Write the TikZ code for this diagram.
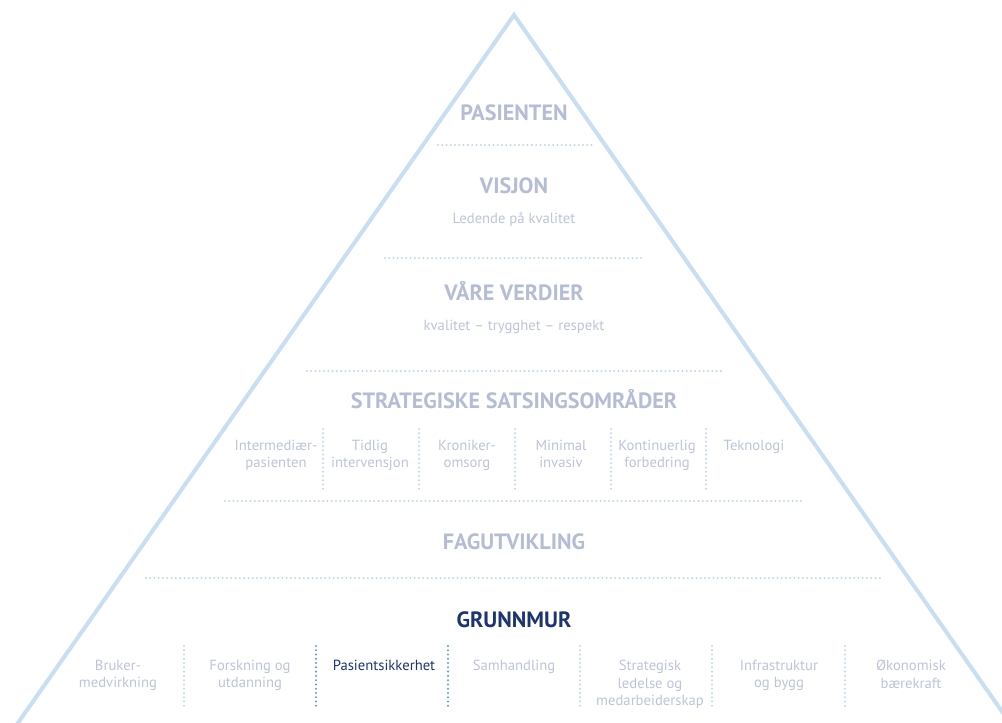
\documentclass[tikz,border=0pt]{standalone}
\usepackage{fontspec}
\setmainfont{PT Sans}
\definecolor{edgeblue}{RGB}{200,222,242}
\definecolor{dotblue}{RGB}{192,215,238}
\definecolor{darkdot}{RGB}{100,155,210}
\definecolor{headgray}{RGB}{180,189,213}
\definecolor{bodygray}{RGB}{188,196,219}
\definecolor{navy}{RGB}{28,52,115}
\begin{document}
\begin{tikzpicture}[x=0.75pt,y=-0.75pt] % 1 unit = 1 px of the reference
\tikzstyle{heading} = [font=\bfseries\fontsize{16.6}{20}\selectfont, text=headgray, inner sep=0pt, anchor=base] % niva title
\tikzstyle{subtext} = [font=\fontsize{11}{13}\selectfont, text=bodygray, inner sep=0pt, anchor=base] % line under a title
\tikzstyle{column} = [font=\fontsize{11}{13}\selectfont, text=bodygray, inner sep=0pt, align=center, anchor=north] % text in a column
\tikzstyle{divider} = [draw=dotblue, line width=1.7pt, line cap=round, dash pattern=on 0pt off 3.2pt] % dotted line
\clip (0,0) rectangle (1002,722);

% pyramid
\coordinate (top) at (514,15);
\coordinate (bl) at (-8,760);
\coordinate (br) at (1036,760);
\draw[edgeblue, line width=3pt, line join=miter] (bl) -- (top) -- (br);

% levels
\node[heading] (pasienten) at (514,120) {PASIENTEN};
\draw[divider] (438,145) -- (592,145);
\node[heading] (visjon) at (514,193) {VISJON};
\node[subtext] (visjontxt) at (514,223) {Ledende på kvalitet};
\draw[divider] (385,258) -- (645,258);
\node[heading] (verdier) at (514,300) {VÅRE VERDIER};
\node[subtext] (verdiertxt) at (514,330) {kvalitet – trygghet – respekt};
\draw[divider] (307,371) -- (721,371);
\node[heading] (strategi) at (514,408) {STRATEGISKE SATSINGSOMRÅDER};

% strategiske omrader
\foreach \x/\txt in {276/{Intermediær-\\pasienten}, 370/{Tidlig\\intervensjon},
    467/{Kroniker-\\omsorg}, 561/{Minimal\\invasiv}, 657/{Kontinuerlig\\forbedring}, 754/{Teknologi}}
    \node[column] (s\x) at (\x,440) {\txt};
\foreach \x in {323,419,515,611,706}
    \draw[divider] (\x,429) -- (\x,490);

\draw[divider] (225,501) -- (805,501);
\node[heading] (fag) at (514,549) {FAGUTVIKLING};
\draw[divider] (146,578) -- (883,578);
\node[heading, text=navy] (grunnmur) at (514,627) {GRUNNMUR};

% grunnmur
\foreach \x/\txt in {118/{Bruker-\\medvirkning}, 250/{Forskning og\\utdanning},
    514/{Samhandling}, 650/{Strategisk\\ledelse og\\medarbeiderskap},
    779/{Infrastruktur\\og bygg}, 911/{Økonomisk\\bærekraft}}
    \node[column] (g\x) at (\x,660) {\txt};
\node[column, text=navy] (g384) at (384,660) {Pasientsikkerhet};
\foreach \x in {184,580,712,845}
    \draw[divider] (\x,646) -- (\x,708);
\foreach \x in {316,448}
    \draw[divider, draw=darkdot] (\x,646) -- (\x,708);
\end{tikzpicture}
\end{document}
